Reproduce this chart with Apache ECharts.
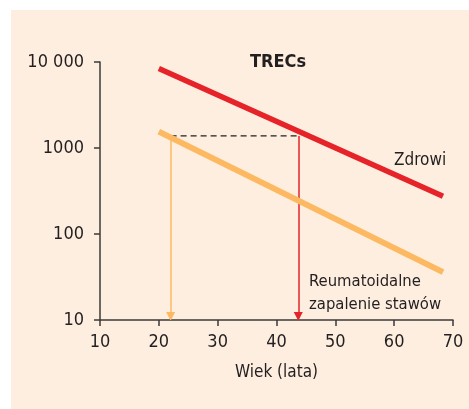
<!DOCTYPE html>
<html>
<head>
<meta charset="utf-8">
<script src="https://cdn.jsdelivr.net/npm/echarts@6/dist/echarts.min.js"></script>
<style>
html,body{margin:0;padding:0;background:#ffffff;}
#panel{position:absolute;left:11px;top:10px;width:458px;height:399px;background:#fdeee0;}
#chart{position:absolute;left:0;top:0;width:469px;height:409px;}
</style>
</head>
<body>
<div id="panel"></div>
<div id="chart"></div>
<script>
// Data
const xTicks = [10, 20, 30, 40, 50, 60, 70];
const yTicks = [10, 100, 1000, 10000];
const zdrowi = [[20, 8400], [68.3, 275]];          // healthy (red)
const rzs = [[20, 1550], [68.3, 36]];              // rheumatoid arthritis (orange)
const guideLevel = 1380;                           // dashed reference level
const rzsAge = 22;                                 // age where RZS reaches the level
const zdrowiAge = 43.7;                            // age where healthy reaches the level
const arrowEnd = 11;

const FONT = "'Liberation Sans Narrow', 'DejaVu Sans Condensed', 'Roboto Condensed', sans-serif";
const AX = '#3d3a38';
const RED = '#e52329';
const ORANGE = '#fdb962';

const chart = echarts.init(document.getElementById('chart'), null, {renderer: 'canvas'});
chart.setOption({
  animation: false,
  backgroundColor: 'transparent',
  grid: {left: 100, right: 16, top: 62, bottom: 89},
  xAxis: {
    type: 'value', min: 10, max: 70, interval: 10,
    name: 'Wiek (lata)', nameLocation: 'middle', nameGap: 44,
    nameTextStyle: {fontFamily: FONT, fontSize: 17, color: '#231f20'},
    axisLine: {show: true, onZero: false, lineStyle: {color: AX, width: 1.5}},
    axisTick: {show: true, length: 6, lineStyle: {color: AX, width: 1.5}},
    axisLabel: {fontFamily: FONT, fontSize: 18, color: '#231f20', margin: 13,
      formatter: v => xTicks.includes(v) ? String(v) : ''},
    splitLine: {show: false}
  },
  yAxis: {
    type: 'log', logBase: 10, min: 10, max: 10000,
    axisLine: {show: true, onZero: false, lineStyle: {color: AX, width: 1.5}},
    axisTick: {show: true, length: 6, lineStyle: {color: AX, width: 1.5}},
    axisLabel: {fontFamily: FONT, fontSize: 18, color: '#231f20', margin: 16,
      formatter: v => yTicks.includes(v) ? (v >= 10000 ? String(v).replace(/(\d{3})$/, ' $1') : String(v)) : ''},
    minorTick: {show: false},
    splitLine: {show: false}
  },
  series: [
    {type: 'line', data: zdrowi, symbol: 'none', lineStyle: {color: RED, width: 5.5, cap: 'butt'}, z: 5},
    {type: 'line', data: rzs, symbol: 'none', lineStyle: {color: ORANGE, width: 6, cap: 'butt'}, z: 4},
    {type: 'line', data: [[rzsAge, guideLevel], [zdrowiAge, guideLevel]], symbol: 'none',
      lineStyle: {color: '#231f20', width: 1.3, type: [6, 4]}, z: 3},
    {type: 'lines', coordinateSystem: 'cartesian2d', z: 3,
      symbol: ['none', 'triangle'], symbolSize: [0, 9],
      data: [
        {coords: [[rzsAge, guideLevel], [rzsAge, arrowEnd]], lineStyle: {color: ORANGE, width: 1.5}},
        {coords: [[zdrowiAge, guideLevel], [zdrowiAge, arrowEnd]], lineStyle: {color: RED, width: 1.5}}
      ],
      lineStyle: {opacity: 1, curveness: 0}
    }
  ],
  graphic: [
    {type: 'text', x: 278, y: 62, style: {text: 'TRECs', font: "bold 18px " + FONT, fill: '#231f20', textAlign: 'center', textVerticalAlign: 'middle'}},
    {type: 'text', x: 394, y: 161, style: {text: 'Zdrowi', font: "17px " + FONT, fill: '#231f20', textAlign: 'left', textVerticalAlign: 'middle'}},
    {type: 'text', x: 309, y: 282, style: {text: 'Reumatoidalne', font: "16.5px " + FONT, fill: '#231f20', textAlign: 'left', textVerticalAlign: 'middle'}},
    {type: 'text', x: 309, y: 305, style: {text: 'zapalenie stawów', font: "16.5px " + FONT, fill: '#231f20', textAlign: 'left', textVerticalAlign: 'middle'}}
  ]
});
</script>
</body>
</html>
